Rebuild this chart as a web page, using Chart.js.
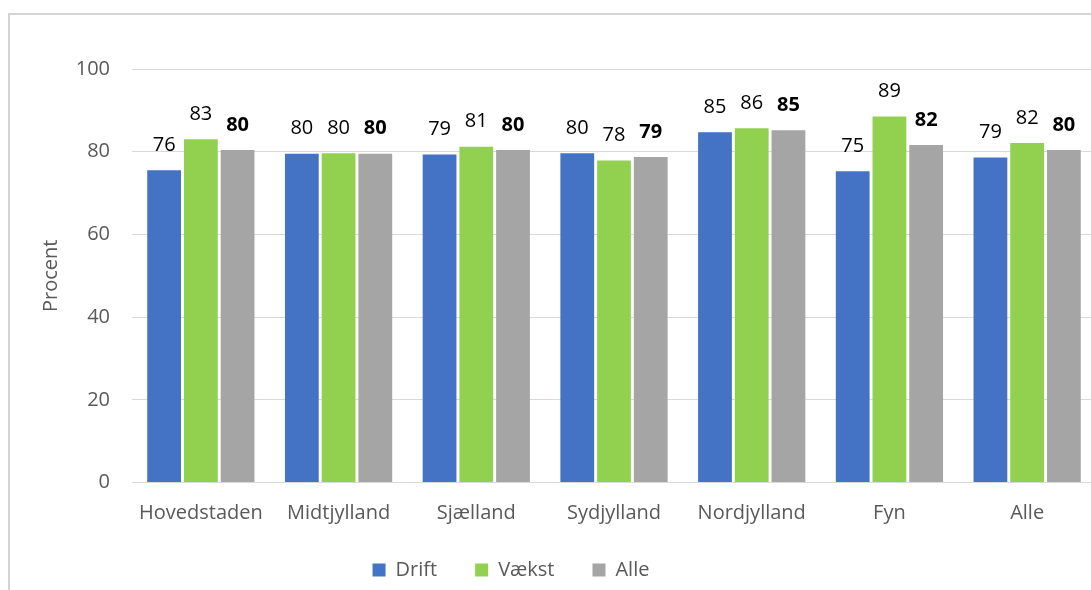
<!DOCTYPE html>
<html>
<head>
<meta charset="utf-8">
<script src="https://cdn.jsdelivr.net/npm/chart.js@4/dist/chart.umd.min.js"></script>
<style>
    html, body { margin: 0; padding: 0; background: #fff; overflow: hidden; }
    #wrap { position: relative; width: 1091px; height: 590px; overflow: hidden; }
    #frame { position: absolute; left: 8px; top: 13px; width: 1200px; height: 700px; border: 2px solid #d4d4d4; box-sizing: border-box; }
    #box { position: absolute; left: 0; top: 0; width: 1100px; height: 590px; }
</style>
</head>
<body>
<div id="wrap">
    <div id="frame"></div>
    <div id="box"><canvas id="chart" width="1100" height="590"></canvas></div>
</div>
<script>
// --- data ---
const regions = ['Hovedstaden', 'Midtjylland', 'Sjælland', 'Sydjylland', 'Nordjylland', 'Fyn', 'Alle'];
const drift = [75.5, 79.5, 79.3, 79.6, 84.7, 75.3, 78.6];
const vaekst = [83.0, 79.6, 81.2, 77.9, 85.7, 88.5, 82.1];
const alle = [80.4, 79.5, 80.4, 78.7, 85.2, 81.6, 80.4];
const yTicks = [0, 20, 40, 60, 80, 100];

const FONT = "'Open Sans', 'Noto Sans', sans-serif";
const GREY_TEXT = '#595959';
const SIZE = 20;

// labels above bars (Alle in bold)
const barLabels = {
    id: 'barLabels',
    afterDatasetsDraw(chart) {
        const ctx = chart.ctx;
        ctx.save();
        ctx.fillStyle = '#000';
        ctx.textAlign = 'center';
        ctx.textBaseline = 'middle';
        chart.data.datasets.forEach((ds, i) => {
            ctx.font = (i === 2 ? 'bold ' : '') + SIZE + 'px ' + FONT;
            chart.getDatasetMeta(i).data.forEach((bar, j) => {
                ctx.fillText(Math.round(ds.data[j]), bar.x, bar.y - 25);
            });
        });
        ctx.restore();
    }
};

// legend sits a bit left of centre in the original
const legendShift = {
    id: 'legendShift',
    beforeDraw(chart) {
        const lg = chart.legend;
        lg.left = 0;
        lg.right = 1022;
        lg.width = 1022;
    }
};

new Chart(document.getElementById('chart'), {
    type: 'bar',
    data: {
        labels: regions,
        datasets: [
            { label: 'Drift', data: drift, backgroundColor: '#4472c4' },
            { label: 'Vækst', data: vaekst, backgroundColor: '#92d050' },
            { label: 'Alle', data: alle, backgroundColor: '#a5a5a5' }
        ]
    },
    options: {
        responsive: false,
        animation: false,
        layout: { padding: { top: 69, right: 4, bottom: 0, left: 0 } },
        datasets: { bar: { categoryPercentage: 0.8, barPercentage: 0.92 } },
        plugins: {
            tooltip: { enabled: false },
            legend: {
                position: 'bottom',
                labels: {
                    boxWidth: 13,
                    boxHeight: 13,
                    padding: 38,
                    color: GREY_TEXT,
                    font: { family: FONT, size: SIZE }
                }
            }
        },
        scales: {
            x: {
                grid: { display: false, drawTicks: false },
                border: { display: false },
                ticks: { color: GREY_TEXT, padding: 19, font: { family: FONT, size: SIZE } },
                afterFit: (s) => {
                    s.height = 39.5;
                    s._computeLabelArea = () => undefined; // don't clip the labels
                }
            },
            y: {
                min: 0,
                max: 100,
                afterBuildTicks: (s) => { s.ticks = yTicks.map(v => ({ value: v })); },
                grid: { color: '#d9d9d9', lineWidth: 1, drawTicks: false },
                border: { display: false },
                ticks: { color: GREY_TEXT, padding: 22, font: { family: FONT, size: SIZE } },
                title: {
                    display: true,
                    text: 'Procent',
                    color: GREY_TEXT,
                    padding: { top: 39, bottom: 0 },
                    font: { family: FONT, size: SIZE }
                },
                afterFit: (s) => { s.width = 132; }
            }
        }
    },
    plugins: [barLabels, legendShift]
});
</script>
</body>
</html>
